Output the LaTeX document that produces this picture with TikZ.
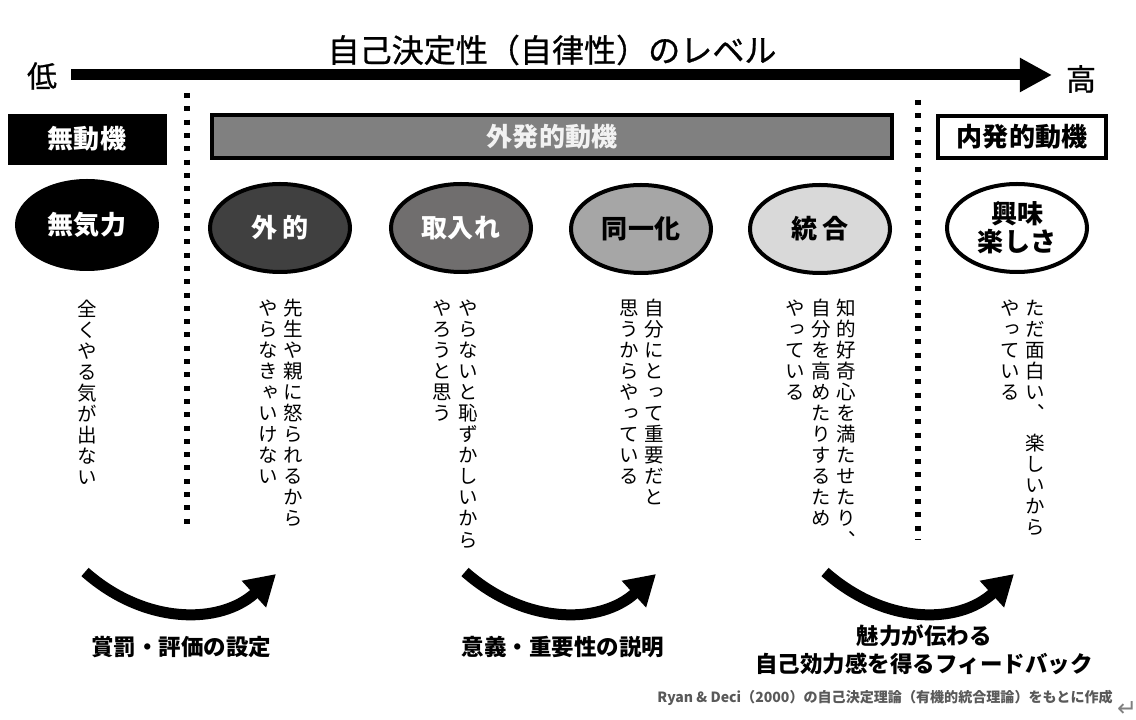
\documentclass[tikz,border=0pt]{standalone}
\usepackage{fontspec}
\setmainfont{Noto Sans CJK JP}
\newfontfamily\tatefont[RawFeature=+vert]{Noto Sans CJK JP}
\newfontfamily\medfont[FakeBold=0.8]{Noto Sans CJK JP}
\newfontfamily\symfont{DejaVu Sans}
\usetikzlibrary{arrows.meta,shapes}

\definecolor{gDark}{HTML}{404040}
\definecolor{gMid}{HTML}{706E6E}
\definecolor{gBar}{HTML}{808080}
\definecolor{gLight}{HTML}{A6A6A6}
\definecolor{gPale}{HTML}{D9D9D9}
\definecolor{gNote}{HTML}{595959}

\newdimen\px \px=0.025cm
% one character per cell, top to bottom
\newcommand\tatesp{}
\def\tateend{\tateend}
\def\tatecell#1{\hbox to 1em{\hss\vrule height .88em depth .12em width 0pt\relax #1\hss}\kern .077em}
\def\tatestep#1{\ifx#1\tatesp\kern.45em\else\tatecell{#1}\fi}
\def\tateloop#1{\ifx#1\tateend\else\tatestep#1\expandafter\tateloop\fi}
\newcommand\tate[1]{\vtop{\offinterlineskip\tatefont\tateloop#1\tateend}}

\begin{document}
\begin{tikzpicture}[x=0.025cm, y=-0.025cm]
\tikzstyle{ovl}=[ellipse, draw, line width=4\px, minimum width=140\px, minimum height=88\px, inner sep=0pt, font=\bfseries\fontsize{18.5}{20}\selectfont]
\tikzstyle{hdr}=[draw, inner sep=0pt, font=\bfseries\fontsize{18.5}{20}\selectfont]
\tikzstyle{tcol}=[anchor=north, inner sep=0pt, font=\fontsize{13.9}{14}\selectfont]
\tikzstyle{dotl}=[line width=6\px, dash pattern=on 3.56pt off 5.9pt]
\tikzstyle{crv}=[line width=11\px, -{Triangle[length=21.3pt, width=24.2pt]}]
\tikzstyle{blbl}=[inner sep=0pt, align=center, font=\bfseries\fontsize{16}{19.9}\selectfont]

\useasboundingbox (0,0) rectangle (1136,720);

% level axis
\node (ttl) at (552,50) {\medfont\fontsize{22.8}{24}\selectfont 自己決定性（自律性）のレベル};
\node (low) at (42,76) {\medfont\fontsize{21.3}{22}\selectfont 低};
\node (high) at (1081,79) {\medfont\fontsize{21.3}{22}\selectfont 高};
\coordinate (lo) at (71,75);
\coordinate (hi) at (1052,75);
\draw[line width=11\px, -{Triangle[length=22.8pt, width=22.8pt]}] (lo) -- (hi);

% dividers
\coordinate (d1a) at (187,93);
\coordinate (d1b) at (187,528);
\coordinate (d2a) at (918,100);
\coordinate (d2b) at (918,540);
\draw[dotl] (d1a) -- (d1b);
\draw[dotl] (d2a) -- (d2b);

% headers
\node[hdr, fill=black, text=white, minimum width=158\px, minimum height=50\px] (amot) at (87,139) {無動機};
\node[hdr, line width=4\px, fill=gBar, text=white!95!black, minimum width=680\px, minimum height=43\px] (ext) at (552,137) {外発的動機};
\node[hdr, line width=3.5\px, fill=white, minimum width=168\px, minimum height=42\px] (intr) at (1022,137) {内発的動機};

% stages
\node[ovl, fill=black, text=white] (apa) at (87,225) {無気力};
\node[ovl, fill=gDark, text=white] (gai) at (280,228) {外 的};
\node[ovl, fill=gMid, text=white] (tor) at (461,228) {取入れ};
\node[ovl, fill=gLight] (dou) at (641,229) {同一化};
\node[ovl, fill=gPale] (tou) at (820,229) {統 合};
\node[ovl, fill=white, align=center, font=\bfseries\fontsize{18.5}{19.9}\selectfont] (kyo) at (1017,228) {興味\\楽しさ};

% descriptions
\node[tcol] (c0) at (87,299) {\tate{全くやる気が出ない}};
\node[tcol] (c1a) at (293,298) {\tate{先生や親に怒られるから}};
\node[tcol] (c1b) at (268,298) {\tate{やらなきゃいけない}};
\node[tcol] (c2a) at (468,298) {\tate{やらないと恥ずかしいから}};
\node[tcol] (c2b) at (442,298) {\tate{やろうと思う}};
\node[tcol] (c3a) at (654,298) {\tate{自分にとって重要だと}};
\node[tcol] (c3b) at (629,298) {\tate{思うからやっている}};
\node[tcol] (c4a) at (846,298) {\tate{知的好奇心を満たせたり、}};
\node[tcol] (c4b) at (821,298) {\tate{自分を高めたりするため}};
\node[tcol] (c4c) at (795,298) {\tate{やっている}};
\node[tcol] (c5a) at (1035,298) {\tate{ただ面白い、\tatesp 楽しいから}};
\node[tcol] (c5b) at (1010,298) {\tate{やっている}};

% supports
\coordinate (s1) at (85,572);
\coordinate (e1) at (276,574);
\coordinate (s2) at (465,572);
\coordinate (e2) at (656,574);
\coordinate (s3) at (825,572);
\coordinate (e3) at (1014,574);
\draw[crv] (s1) .. controls +(60,53) and +(-56,51) .. (e1);
\draw[crv] (s2) .. controls +(60,53) and +(-56,51) .. (e2);
\draw[crv] (s3) .. controls +(60,53) and +(-56,51) .. (e3);
\node[blbl] (l1) at (181,647) {賞罰・評価の設定};
\node[blbl] (l2) at (563,647) {意義・重要性の説明};
\node[blbl] (l3) at (924,650) {魅力が伝わる\\自己効力感を得るフィードバック};

% source
\node[text=gNote, inner sep=0pt, font=\bfseries\fontsize{10}{11}\selectfont] (src) at (885,698) {Ryan \& Deci（2000）の自己決定理論（有機的統合理論）をもとに作成};
\node[text=gray, inner sep=0pt, font=\symfont\fontsize{17}{17}\selectfont] (ret) at (1127,709) {↵};
\end{tikzpicture}
\end{document}
